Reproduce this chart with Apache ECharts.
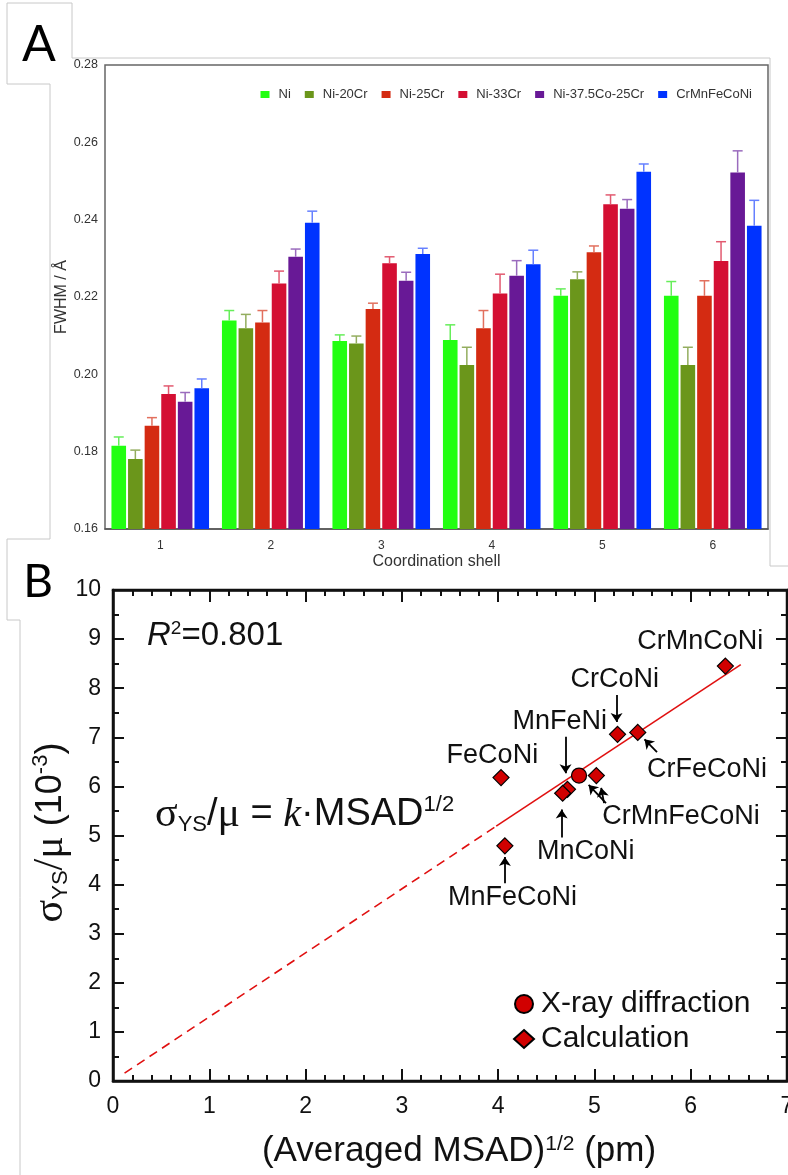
<!DOCTYPE html>
<html lang="en">
<head>
<meta charset="UTF-8">
<title>FWHM and MSAD</title>
<script src="https://cdn.jsdelivr.net/npm/echarts@6.0.0/dist/echarts.min.js"></script>
<style>
    html, body { margin: 0; padding: 0; background: #fff; }
    #main { width: 788px; height: 1175px; }
</style>
</head>
<body>
<div id="main"></div>
<script>
// ---------- panel A data ----------
var shells = ['1', '2', '3', '4', '5', '6'];
var alloyNames = ['Ni', 'Ni-20Cr', 'Ni-25Cr', 'Ni-33Cr', 'Ni-37.5Co-25Cr', 'CrMnFeCoNi'];
var fwhmNi        = [0.1815, 0.2139, 0.2086, 0.2089, 0.2203, 0.2203];
var fwhmNi20Cr    = [0.1781, 0.2119, 0.2080, 0.2024, 0.2246, 0.2024];
var fwhmNi25Cr    = [0.1867, 0.2134, 0.2169, 0.2119, 0.2316, 0.2203];
var fwhmNi33Cr    = [0.1949, 0.2235, 0.2287, 0.2209, 0.2440, 0.2293];
var fwhmNiCoCr    = [0.1929, 0.2304, 0.2242, 0.2255, 0.2428, 0.2522];
var fwhmCantor    = [0.1964, 0.2392, 0.2311, 0.2285, 0.2524, 0.2384];
var errNi         = [0.0023, 0.0026, 0.0016, 0.0039, 0.0018, 0.0037];
var errNi20Cr     = [0.0023, 0.0036, 0.0019, 0.0046, 0.0019, 0.0046];
var errNi25Cr     = [0.0021, 0.0031, 0.0015, 0.0046, 0.0016, 0.0039];
var errNi33Cr     = [0.0021, 0.0032, 0.0017, 0.0050, 0.0024, 0.0050];
var errNiCoCr     = [0.0024, 0.0020, 0.0022, 0.0039, 0.0024, 0.0056];
var errCantor     = [0.0024, 0.0030, 0.0015, 0.0036, 0.0020, 0.0066];

// ---------- panel B data ----------
var xrayPoints = [{name: 'CrMnFeCoNi', value: [4.84, 6.22]}];
var calcPoints = [
    {name: 'CrMnCoNi', value: [6.36, 8.45]},
    {name: 'CrCoNi', value: [5.24, 7.06]},
    {name: 'CrFeCoNi', value: [5.45, 7.10]},
    {name: 'FeCoNi', value: [4.03, 6.18]},
    {name: 'CrMnFeCoNi', value: [5.02, 6.22]},
    {name: 'MnFeNi', value: [4.72, 5.94]},
    {name: 'MnCoNi', value: [4.67, 5.86]},
    {name: 'MnFeCoNi', value: [4.07, 4.79]}
];
var fitSolid = [[3.98, 5.19], [6.52, 8.48]];
var fitDashed = [[0.12, 0.16], [3.98, 5.19]];
// where each alloy name is written (data units)
var labelAnchors = [
    {name: 'CrMnCoNi', value: [6.10, 8.96]},
    {name: 'CrCoNi', value: [5.21, 8.17]},
    {name: 'MnFeNi', value: [4.64, 7.32]},
    {name: 'FeCoNi', value: [3.94, 6.62]},
    {name: 'CrFeCoNi', value: [6.17, 6.35]},
    {name: 'CrMnFeCoNi', value: [5.90, 5.38]},
    {name: 'MnCoNi', value: [4.91, 4.67]},
    {name: 'MnFeCoNi', value: [4.15, 3.74]}
];
var arrows = [
    [[5.23, 7.86], [5.23, 7.31]],
    [[4.70, 7.01], [4.70, 6.27]],
    [[5.65, 6.70], [5.52, 6.96]],
    [[5.12, 5.66], [4.94, 6.03]],
    [[5.10, 5.66], [5.07, 5.97]],
    [[4.66, 4.96], [4.66, 5.53]],
    [[4.07, 4.03], [4.07, 4.56]]
];

var fwhm = [fwhmNi, fwhmNi20Cr, fwhmNi25Cr, fwhmNi33Cr, fwhmNiCoCr, fwhmCantor];
var fwhmErr = [errNi, errNi20Cr, errNi25Cr, errNi33Cr, errNiCoCr, errCantor];
var barColors = ['#22ff11', '#6b961b', '#d42b12', '#d40f33', '#681996', '#0033ff'];
var errColors = ['#66ee5a', '#93ad5e', '#e2705e', '#e25a70', '#9a6bbd', '#6680ff'];
var BAR_W = 14.6, BAR_GAP = 2;
var SANS = 'Liberation Sans';
var SERIF = 'Liberation Serif';

var chart = echarts.init(document.getElementById('main'));

var series = [];
alloyNames.forEach(function (nm, k) {
    series.push({
        name: nm, type: 'bar', xAxisIndex: 0, yAxisIndex: 0,
        data: fwhm[k], barWidth: BAR_W, barGap: (BAR_GAP / BAR_W * 100) + '%',
        itemStyle: {color: barColors[k]}, clip: true
    });
});
alloyNames.forEach(function (nm, k) {
    series.push({
        name: nm + ' error', type: 'custom', xAxisIndex: 0, yAxisIndex: 0, z: 3,
        data: shells.map(function (s, i) { return [i, fwhm[k][i], fwhmErr[k][i]]; }),
        encode: {x: 0, y: 1},
        renderItem: function (params, api) {
            var base = api.coord([api.value(0), api.value(1)]);
            var top = api.coord([api.value(0), api.value(1) + api.value(2)]);
            var x = base[0] + (k - 2.5) * (BAR_W + BAR_GAP);
            var st = {stroke: errColors[k], lineWidth: 1.5};
            return {type: 'group', children: [
                {type: 'line', shape: {x1: x, y1: base[1], x2: x, y2: top[1]}, style: st},
                {type: 'line', shape: {x1: x - 5, y1: top[1], x2: x + 5, y2: top[1]}, style: st}
            ]};
        }
    });
});

// panel B
series.push({
    name: 'fit', type: 'line', xAxisIndex: 1, yAxisIndex: 1, data: fitSolid,
    symbol: 'none', lineStyle: {color: '#e01010', width: 1.6}, z: 2
});
series.push({
    name: 'fit extrapolated', type: 'line', xAxisIndex: 1, yAxisIndex: 1, data: fitDashed,
    symbol: 'none', lineStyle: {color: '#e01010', width: 1.6, type: [9, 6]}, z: 2
});
series.push({
    name: 'arrows', type: 'lines', coordinateSystem: 'cartesian2d', xAxisIndex: 1, yAxisIndex: 1,
    data: arrows.map(function (a) { return {coords: a}; }),
    symbol: ['none', 'arrow'], symbolSize: [0, 9],
    lineStyle: {color: '#000', width: 1.8, opacity: 1}, z: 4
});
series.push({
    name: 'Calculation', type: 'scatter', xAxisIndex: 1, yAxisIndex: 1, data: calcPoints,
    symbol: 'diamond', symbolSize: 16,
    itemStyle: {color: '#d10000', borderColor: '#000', borderWidth: 1.2, opacity: 1}, z: 5
});
series.push({
    name: 'X-ray diffraction', type: 'scatter', xAxisIndex: 1, yAxisIndex: 1, data: xrayPoints,
    symbol: 'circle', symbolSize: 15,
    itemStyle: {color: '#d10000', borderColor: '#000', borderWidth: 1.2, opacity: 1}, z: 6
});
series.push({
    name: 'labels', type: 'custom', xAxisIndex: 1, yAxisIndex: 1, silent: true, z: 7,
    data: labelAnchors.map(function (d) { return [d.value[0], d.value[1], d.name]; }),
    encode: {x: 0, y: 1},
    renderItem: function (params, api) {
        var p = api.coord([api.value(0), api.value(1)]);
        return {type: 'text', x: p[0], y: p[1], style: {
            text: labelAnchors[params.dataIndex].name, fontFamily: SANS, fontSize: 27,
            fill: '#111', align: 'center', verticalAlign: 'middle'
        }};
    }
});

var axisB = {
    axisLine: {onZero: false, lineStyle: {color: '#111', width: 2.5}},
    splitLine: {show: false}
};

var option = {
    animation: false,
    backgroundColor: '#fff',
    grid: [
        {left: 105, top: 65, width: 663, height: 464, show: true, borderColor: '#666', borderWidth: 1.5,
            outerBoundsMode: 'none'},
        {left: 113, top: 590, width: 674, height: 491, show: true, borderColor: '#111', borderWidth: 2.5,
            outerBoundsMode: 'none'}
    ],
    legend: [
        {
            data: alloyNames, right: 31, top: 83, itemWidth: 9, itemHeight: 7, itemGap: 14,
            icon: 'rect', textStyle: {fontFamily: SANS, fontSize: 13, color: '#333', padding: [0, 0, 0, 4]}
        },
        {
            data: [{name: 'X-ray diffraction', icon: 'circle'}, {name: 'Calculation', icon: 'diamond'}],
            left: 508, top: 984, orient: 'vertical', itemWidth: 20, itemHeight: 18, itemGap: 5,
            textStyle: {fontFamily: SANS, fontSize: 30, color: '#111', padding: [0, 0, 0, 2]}
        }
    ],
    xAxis: [
        {
            type: 'category', gridIndex: 0, data: shells,
            name: 'Coordination shell', nameLocation: 'middle', nameGap: 25, nameMoveOverlap: false,
            nameTextStyle: {fontFamily: SANS, fontSize: 16, color: '#333'},
            axisLine: {lineStyle: {color: '#555', width: 1.5}},
            axisTick: {inside: true, length: 5, lineStyle: {color: '#555', width: 1.5}},
            axisLabel: {fontFamily: SANS, fontSize: 12, color: '#333', margin: 11}
        },
        Object.assign({
            type: 'value', gridIndex: 1, min: 0, max: 7, interval: 1,
            name: '{n|(Averaged MSAD)}{sup|1/2}{n| (pm)}', nameLocation: 'middle', nameGap: 53,
            nameMoveOverlap: false,
            nameTextStyle: {padding: [0, 0, 0, 18], rich: {
                n: {fontFamily: SANS, fontSize: 35, color: '#111'},
                sup: {fontFamily: SANS, fontSize: 21, color: '#111', verticalAlign: 'top'}
            }},
            axisTick: {inside: true, length: 12, lineStyle: {color: '#111', width: 2}},
            minorTick: {show: true, splitNumber: 5, length: 6, lineStyle: {color: '#111', width: 2}},
            axisLabel: {fontFamily: SANS, fontSize: 23, color: '#111', margin: 14}
        }, axisB),
        Object.assign({
            type: 'value', gridIndex: 1, position: 'top', min: 0, max: 7, interval: 1,
            axisTick: {inside: true, length: 12, lineStyle: {color: '#111', width: 2}},
            minorTick: {show: true, splitNumber: 5, length: 6, lineStyle: {color: '#111', width: 2}},
            axisLabel: {show: false}
        }, axisB)
    ],
    yAxis: [
        {
            type: 'value', gridIndex: 0, min: 0.16, max: 0.28, interval: 0.02,
            name: 'FWHM / Å', nameLocation: 'middle', nameGap: 35, nameRotate: 90, nameMoveOverlap: false,
            nameTextStyle: {fontFamily: SANS, fontSize: 16, color: '#333'},
            axisLine: {lineStyle: {color: '#555', width: 1.5}},
            axisTick: {inside: true, length: 5, lineStyle: {color: '#555', width: 1.5}},
            axisLabel: {fontFamily: SANS, fontSize: 12.5, color: '#333', margin: 7,
                formatter: function (v) { return v.toFixed(2); }},
            splitLine: {show: false}
        },
        Object.assign({
            type: 'value', gridIndex: 1, min: 0, max: 10, interval: 1,
            name: '{g|σ}{sub|YS}{g|/μ}{n| (10}{sup|-3}{n|)}', nameLocation: 'middle', nameGap: 41, nameRotate: 90,
            nameMoveOverlap: false,
            nameTextStyle: {padding: [0, 0, 0, 6], rich: {
                g: {fontFamily: SERIF, fontSize: 42, color: '#111'},
                n: {fontFamily: SANS, fontSize: 36, color: '#111'},
                sub: {fontFamily: SANS, fontSize: 22, color: '#111', verticalAlign: 'bottom'},
                sup: {fontFamily: SANS, fontSize: 22, color: '#111', verticalAlign: 'top'}
            }},
            axisTick: {inside: true, length: 11, lineStyle: {color: '#111', width: 2}},
            minorTick: {show: true, splitNumber: 2, length: 6, lineStyle: {color: '#111', width: 2}},
            axisLabel: {fontFamily: SANS, fontSize: 23, color: '#111', margin: 12}
        }, axisB),
        Object.assign({
            type: 'value', gridIndex: 1, position: 'right', min: 0, max: 10, interval: 1,
            axisTick: {inside: true, length: 11, lineStyle: {color: '#111', width: 2}},
            minorTick: {show: true, splitNumber: 2, length: 6, lineStyle: {color: '#111', width: 2}},
            axisLabel: {show: false}
        }, axisB)
    ],
    graphic: [
        {type: 'polyline', silent: true,
            shape: {points: [[7, 84], [7, 3], [72, 3], [72, 58], [770, 58], [770, 566], [788, 566]]},
            style: {stroke: '#c8c8c8', lineWidth: 1, fill: 'none'}},
        {type: 'polyline', silent: true,
            shape: {points: [[7, 84], [50, 84], [50, 539], [7, 539], [7, 620], [20, 620], [20, 1175]]},
            style: {stroke: '#c8c8c8', lineWidth: 1, fill: 'none'}},
        {type: 'text', silent: true, x: 39, y: 45,
            style: {text: 'A', fontFamily: 'Lato', fontSize: 50, fill: '#000', align: 'center', verticalAlign: 'middle'}},
        {type: 'text', silent: true, x: 38, y: 582,
            style: {text: 'B', fontFamily: 'Lato', fontSize: 46, fill: '#000', align: 'center', verticalAlign: 'middle'}},
        {type: 'text', silent: true, x: 147, y: 636,
            style: {text: '{i|R}{s|2}{n|=0.801}', verticalAlign: 'middle', rich: {
                i: {fontFamily: SANS, fontStyle: 'italic', fontSize: 33, fill: '#111'},
                s: {fontFamily: SANS, fontSize: 19, fill: '#111', verticalAlign: 'top'},
                n: {fontFamily: SANS, fontSize: 33, fill: '#111'}
            }}},
        {type: 'text', silent: true, x: 155, y: 815,
            style: {text: '{g|σ}{sub|YS}{n|/}{g|μ}{n| = }{k|k}{n|·MSAD}{sup|1/2}', verticalAlign: 'middle', rich: {
                g: {fontFamily: SERIF, fontSize: 42, fill: '#111'},
                k: {fontFamily: SERIF, fontStyle: 'italic', fontSize: 40, fill: '#111'},
                n: {fontFamily: SANS, fontSize: 38, fill: '#111'},
                sub: {fontFamily: SANS, fontSize: 22, fill: '#111', verticalAlign: 'bottom'},
                sup: {fontFamily: SANS, fontSize: 22, fill: '#111', verticalAlign: 'top'}
            }}}
    ],
    series: series
};

chart.setOption(option);
</script>
</body>
</html>
